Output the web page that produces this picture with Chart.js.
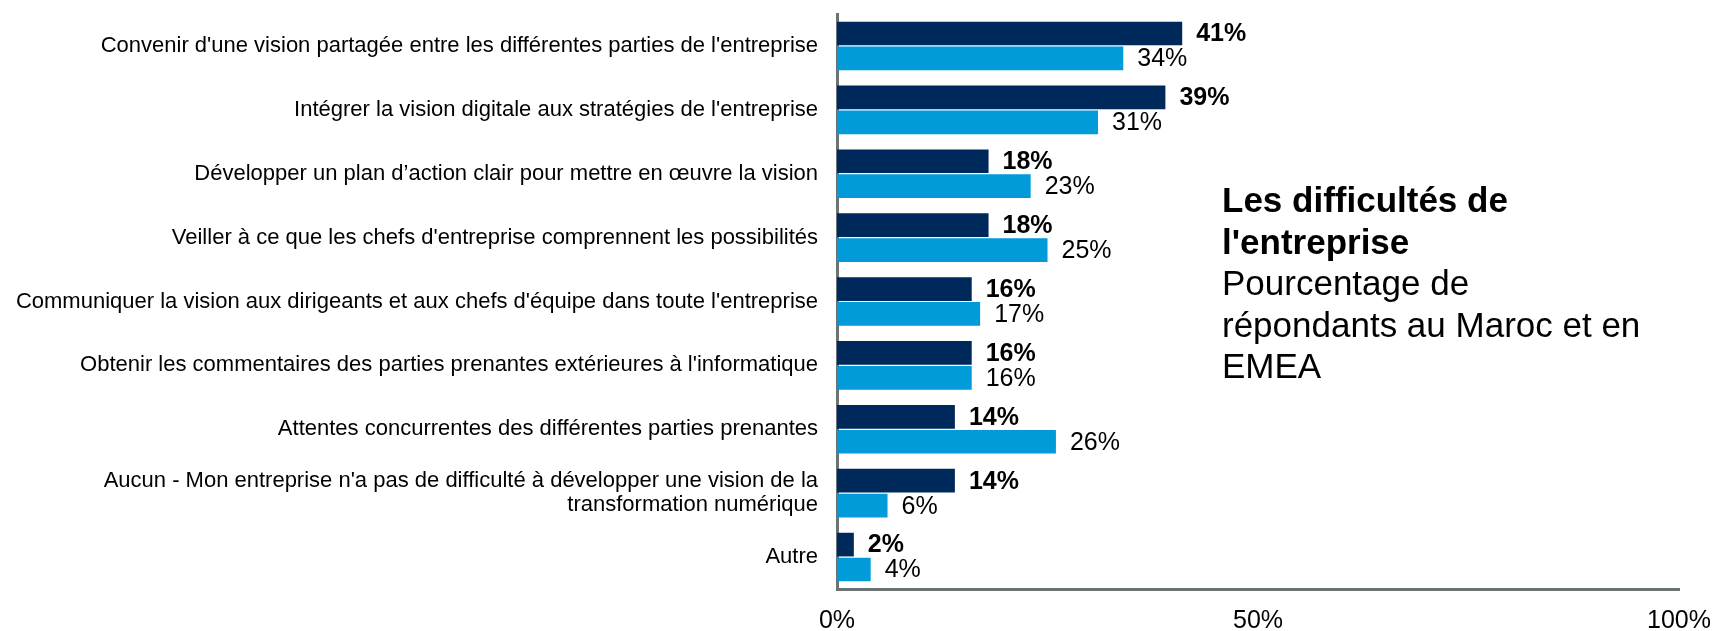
<!DOCTYPE html>
<html>
<head>
<meta charset="utf-8">
<script src="https://cdn.jsdelivr.net/npm/chart.js@4/dist/chart.umd.min.js"></script>
<style>
  body { margin: 0; background: #fff; }
  #wrap { position: relative; width: 1716px; height: 631px; }
  #title {
    position: absolute; left: 1222px; top: 179px;
    font-family: Arial, "Liberation Sans", sans-serif;
    font-size: 35px; line-height: 41.5px; color: #000;
  }
  #title b { font-weight: bold; }
</style>
</head>
<body>
<div id="wrap">
  <canvas id="chart" width="1716" height="631"></canvas>
  <div id="title"><b>Les difficultés de<br>l'entreprise</b><br>Pourcentage de<br>répondants au Maroc et en<br>EMEA</div>
</div>
<script>
const categories = [
  "Convenir d'une vision partagée entre les différentes parties de l'entreprise",
  "Intégrer la vision digitale aux stratégies de l'entreprise",
  "Développer un plan d’action clair pour mettre en œuvre la vision",
  "Veiller à ce que les chefs d'entreprise comprennent les possibilités",
  "Communiquer la vision aux dirigeants et aux chefs d'équipe dans toute l'entreprise",
  "Obtenir les commentaires des parties prenantes extérieures à l'informatique",
  "Attentes concurrentes des différentes parties prenantes",
  ["Aucun - Mon entreprise n'a pas de difficulté à développer une vision de la", "transformation numérique"],
  "Autre",
];
const maroc = [41, 39, 18, 18, 16, 16, 14, 14, 2];
const emea = [34, 31, 23, 25, 17, 16, 26, 6, 4];
const xTicks = [0, 50, 100];

const font = "Arial, 'Liberation Sans', sans-serif";

// value labels next to the bar ends
const barLabels = {
  id: "barLabels",
  afterDatasetsDraw(chart) {
    const ctx = chart.ctx;
    ctx.save();
    ctx.fillStyle = "#000";
    ctx.textBaseline = "middle";
    ctx.textAlign = "left";
    chart.data.datasets.forEach((ds, i) => {
      ctx.font = (i === 0 ? "bold " : "") + "25px " + font;
      chart.getDatasetMeta(i).data.forEach((bar, j) => {
        ctx.fillText(ds.data[j] + "%", bar.x + 14, bar.y + 1);
      });
    });
    ctx.restore();
  },
};

new Chart(document.getElementById("chart"), {
  type: "bar",
  data: {
    labels: categories,
    datasets: [
      { label: "Maroc", data: maroc, backgroundColor: "#00295B" },
      { label: "EMEA", data: emea, backgroundColor: "#009BD8" },
    ],
  },
  options: {
    indexAxis: "y",
    responsive: false,
    animation: false,
    categoryPercentage: 0.78,
    barPercentage: 0.95,
    layout: { padding: { top: 14, right: 37, left: 0, bottom: 0 } },
    plugins: { legend: { display: false }, tooltip: { enabled: false } },
    scales: {
      x: {
        min: 0,
        max: 100,
        afterBuildTicks: (scale) => { scale.ticks = xTicks.map((v) => ({ value: v })); },
        afterFit: (scale) => {
          scale.height = 42;
          scale.paddingLeft = 0;
          scale.paddingRight = 0;
        },
        grid: { display: false, drawTicks: false },
        border: { color: "#6D7374", width: 3 },
        ticks: {
          padding: 17,
          color: "#000",
          font: { family: font, size: 25 },
          callback: (v) => v + "%",
        },
      },
      y: {
        afterFit: (scale) => {
          scale.width = 837;
          scale.paddingTop = 0;
          scale.paddingBottom = 0;
        },
        grid: { display: false, drawTicks: false },
        border: { color: "#6D7374", width: 3 },
        ticks: {
          padding: 19,
          color: "#000",
          font: { family: font, size: 22, lineHeight: 1.1 },
        },
      },
    },
  },
  plugins: [barLabels],
});
</script>
</body>
</html>
